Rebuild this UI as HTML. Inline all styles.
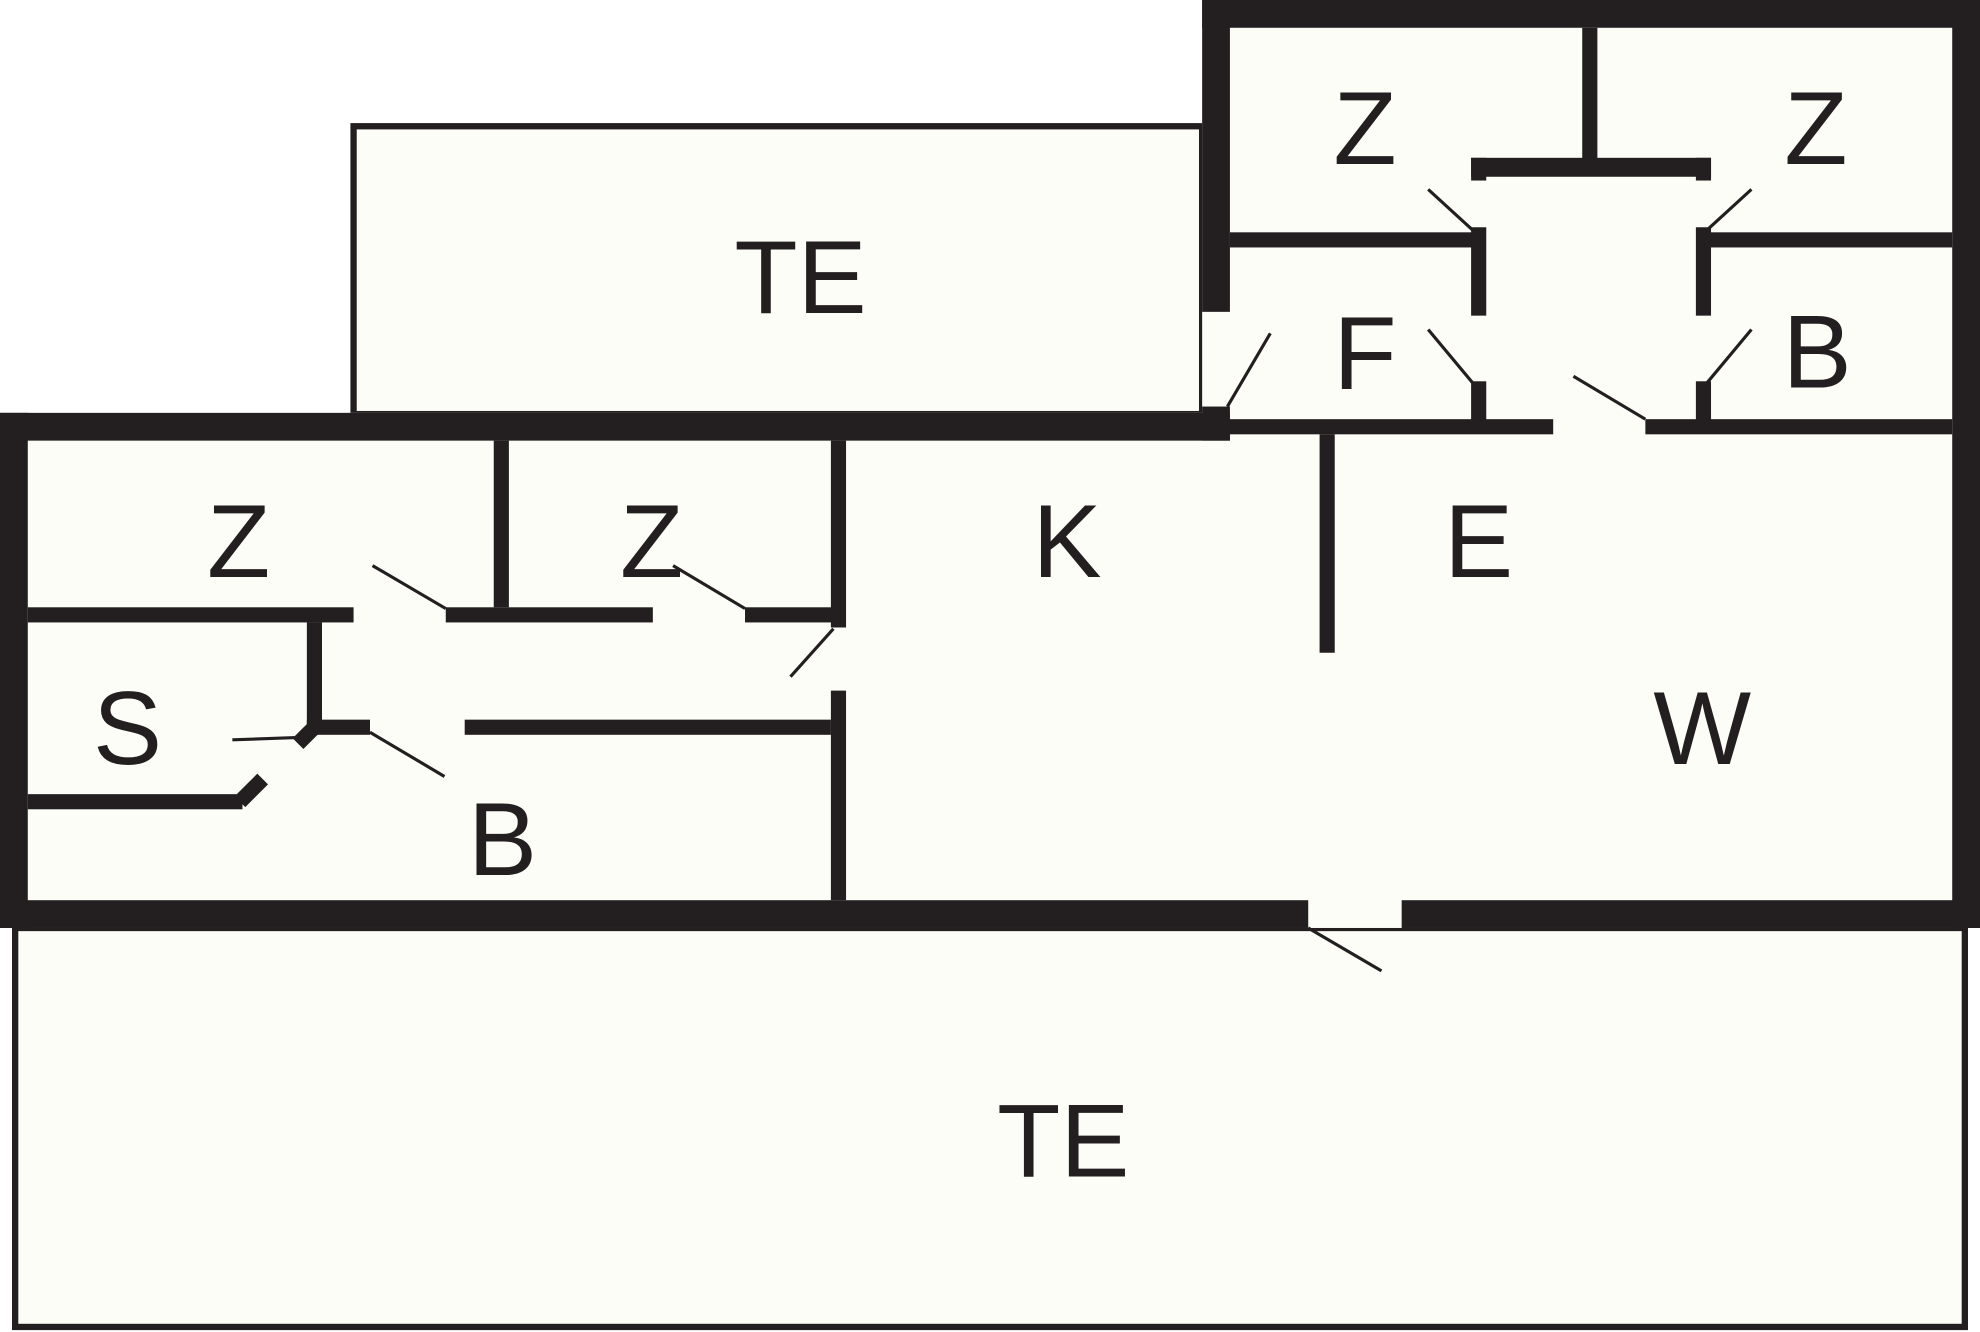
<!DOCTYPE html>
<html><head><meta charset="utf-8"><style>
html,body{margin:0;padding:0;background:#fff;}
svg{display:block;}
text{font-family:"Liberation Sans",sans-serif;font-size:82px;fill:#231f20;text-anchor:middle;}
</style></head><body>
<svg width="1980" height="1332" viewBox="0 0 1568 1055" preserveAspectRatio="none" xmlns="http://www.w3.org/2000/svg">
<rect width="1568" height="1055" fill="#fff"/>
<!-- terraces -->
<rect x="280" y="100" width="672" height="228" fill="#fcfdf7" stroke="#231f20" stroke-width="5"/>
<rect x="12" y="735" width="1544" height="316" fill="#fcfdf7" stroke="#231f20" stroke-width="5"/>
<!-- building fill -->
<rect x="0" y="327" width="974" height="408" fill="#fcfdf7"/>
<rect x="952" y="0" width="616" height="735" fill="#fcfdf7"/>
<g fill="#231f20">
<!-- outer thick walls -->
<rect x="0" y="327" width="974" height="22"/>
<rect x="0" y="327" width="22" height="408"/>
<rect x="0" y="713" width="1036" height="22"/>
<rect x="1110" y="713" width="458" height="22"/>
<rect x="952" y="0" width="616" height="22"/>
<rect x="1546" y="0" width="22" height="735"/>
<rect x="952" y="0" width="22" height="247"/>
<rect x="952" y="322" width="22" height="27"/>
<!-- upper right interior -->
<rect x="974" y="184" width="193" height="12"/>
<rect x="1348" y="184" width="198" height="12"/>
<rect x="1253" y="22" width="12" height="105"/>
<rect x="1165" y="125" width="190" height="15"/>
<rect x="1165" y="125" width="12" height="18"/>
<rect x="1165" y="180" width="12" height="70"/>
<rect x="1165" y="302" width="12" height="40"/>
<rect x="1343" y="125" width="12" height="18"/>
<rect x="1343" y="180" width="12" height="70"/>
<rect x="1343" y="302" width="12" height="40"/>
<rect x="974" y="332" width="256" height="12"/>
<rect x="1303" y="332" width="243" height="12"/>
<rect x="1045" y="344" width="12" height="173"/>
<!-- left interior -->
<rect x="22" y="481" width="258" height="12"/>
<rect x="353" y="481" width="164" height="12"/>
<rect x="590" y="481" width="70" height="12"/>
<rect x="391" y="349" width="12" height="132"/>
<rect x="658" y="349" width="12" height="148"/>
<rect x="658" y="547" width="12" height="166"/>
<rect x="243" y="493" width="12" height="85"/>
<rect x="243" y="570" width="50" height="12"/>
<rect x="368" y="570" width="290" height="12"/>
<rect x="22" y="629" width="170" height="12"/>
</g>
<!-- diagonal S wall -->
<line x1="190" y1="635" x2="208" y2="617" stroke="#231f20" stroke-width="12"/>
<line x1="236" y1="589" x2="248" y2="577" stroke="#231f20" stroke-width="12"/>
<!-- door swings -->
<g stroke="#231f20" stroke-width="2.5" fill="none">
<line x1="1131" y1="150" x2="1166" y2="182"/>
<line x1="1387" y1="150" x2="1352" y2="182"/>
<line x1="1131" y1="261" x2="1166" y2="303"/>
<line x1="1387" y1="261" x2="1352" y2="303"/>
<line x1="1246" y1="298" x2="1303" y2="332"/>
<line x1="1006" y1="264" x2="972" y2="322"/>
<line x1="295" y1="448" x2="353" y2="482"/>
<line x1="533" y1="448" x2="590" y2="482"/>
<line x1="626" y1="536" x2="660" y2="498"/>
<line x1="293" y1="580" x2="352" y2="615"/>
<line x1="184" y1="586" x2="240" y2="584"/>
<line x1="1036" y1="735" x2="1094" y2="769"/>
</g>
<!-- labels -->
<text x="634" y="248">TE</text>
<text x="842" y="932">TE</text>
<text x="1081" y="130">Z</text>
<text x="1438" y="130">Z</text>
<text x="1081" y="308">F</text>
<text x="1439" y="307">B</text>
<text x="189" y="457">Z</text>
<text x="516" y="457">Z</text>
<text x="845" y="457">K</text>
<text x="1171" y="457">E</text>
<text x="101" y="605">S</text>
<text x="1348" y="605">W</text>
<text x="398" y="693">B</text>
</svg>
</body></html>
